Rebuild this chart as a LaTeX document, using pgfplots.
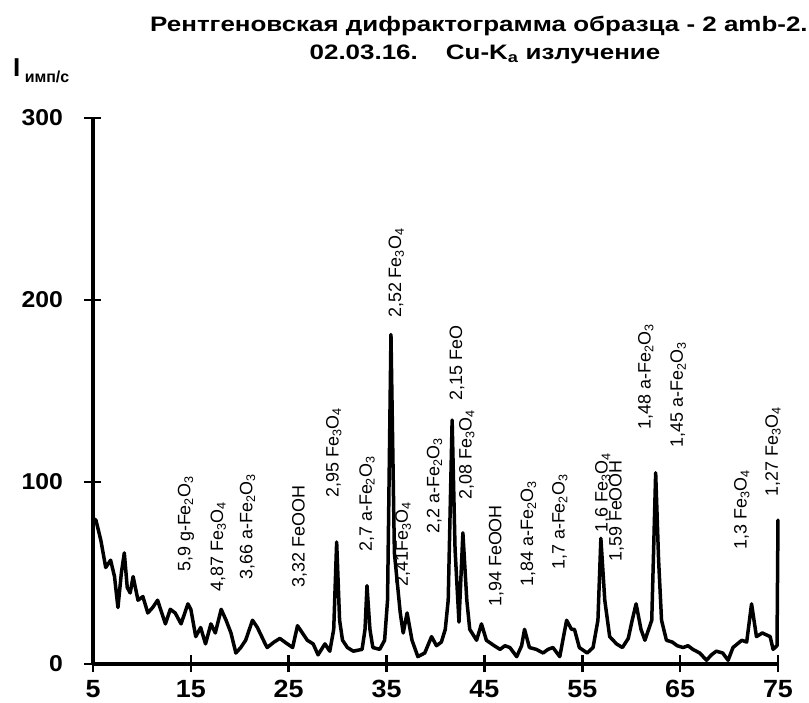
\documentclass[border=0pt]{standalone}
\usepackage{fontspec}
\setmainfont{Liberation Sans}
\newfontfamily\widefont[FakeStretch=1.24]{Liberation Sans}
\newfontfamily\tickfont[FakeStretch=1.08]{Liberation Sans}
\usepackage{pgfplots}
\pgfplotsset{compat=1.18}
\newcommand{\FeO}{Fe\textsubscript{2}O\textsubscript{3}}
\newcommand{\FeM}{Fe\textsubscript{3}O\textsubscript{4}}
\tikzset{lbl/.style={rotate=90, anchor=west, inner sep=0pt, font=\fontsize{18}{18}\selectfont}}
\begin{document}
\begin{tikzpicture}
\begin{axis}[
  scale only axis,
  width=685bp, height=546bp,
  xmin=5, xmax=75, ymin=0, ymax=300,
  axis lines=left,
  axis line style={-, line width=3.2bp, black},
  xtick={5,15,25,35,45,55,65,75},
  ytick={0,100,200,300},
  tick align=center,
  major tick length=17bp,
  tick style={line width=2.6bp, black},
  /pgf/number format/assume math mode=true,
  ticklabel style={font=\tickfont\bfseries\fontsize{23}{23}\selectfont},
  xticklabel style={yshift=-4bp, font=\tickfont\bfseries\fontsize{25}{25}\selectfont},
  yticklabel style={xshift=-18bp},
  clip=false,
]
\addplot[black, line width=3.5bp, line join=round, line cap=round] coordinates {
(5,80)(5.3,79)(5.8,68)(6.3,53)(6.8,57)(7.2,48)(7.55,31)(7.9,50)(8.2,61)(8.5,42)(8.8,39)(9.1,48)(9.6,35)(10.1,37)(10.6,28)(11.1,31)(11.6,35)(12.4,22)(12.9,30)(13.4,28)(14.0,22)(14.7,33)(15.0,30)(15.5,15)(16.0,20)(16.5,11)(17.05,22)(17.5,17)(18.1,30)(18.6,24)(19.1,17)(19.6,6)(20.1,9)(20.6,13)(21.3,24)(21.8,20)(22.6,11)(22.8,9)(23.5,12)(24.1,14)(24.6,12)(25.4,9)(25.9,21)(26.4,17)(26.9,13)(27.5,11)(28.0,5)(28.7,11)(29.2,7)(29.6,19)(29.9,67)(30.2,24)(30.5,13)(31.0,9)(31.6,7)(32.5,8)(32.8,19)(33.0,43)(33.3,19)(33.6,9)(34.3,8)(34.8,13)(35.1,35)(35.45,181)(35.8,61)(36.4,28)(36.7,17)(37.1,28)(37.6,13)(38.2,4)(38.9,6)(39.6,15)(40.1,10)(40.6,12)(41.0,19)(41.3,35)(41.7,134)(42.0,63)(42.4,23)(42.8,72)(43.2,35)(43.5,19)(44.2,13)(44.7,22)(45.2,13)(46.0,10)(46.6,8)(47.1,10)(47.6,9)(48.3,4)(48.8,10)(49.1,19)(49.6,9)(50.3,8)(51.0,6)(51.5,8)(52.0,9)(52.7,4)(53.4,24)(53.9,19)(54.2,19)(54.7,9)(55.5,6)(56.1,9)(56.6,24)(56.9,69)(57.3,35)(57.8,15)(58.5,11)(59.1,9)(59.7,14)(60.1,24)(60.5,33)(61.0,19)(61.4,13)(62.1,24)(62.5,105)(62.8,57)(63.1,24)(63.6,13)(64.2,12)(64.7,10)(65.3,9)(65.8,10)(66.3,8)(67.0,6)(67.7,2)(68.2,5)(68.7,7)(69.35,6)(69.9,2)(70.4,9)(71.3,13)(71.8,12)(72.3,33)(72.8,15)(73.4,17)(74.2,15)(74.5,8)(74.9,10)(75,79)
};
\node[lbl] at (axis cs:14.5,50.5) {5,9 g-\FeO};
\node[lbl] at (axis cs:17.8,39.6) {4,87 \FeM};
\node[lbl] at (axis cs:20.8,46.2) {3,66 a-\FeO};
\node[lbl] at (axis cs:26.1,41.8) {3,32 FeOOH};
\node[lbl] at (axis cs:29.6,91.2) {2,95 \FeM};
\node[lbl] at (axis cs:33.0,61.5) {2,7 a-\FeO};
\node[lbl] at (axis cs:36.0,190) {2,52 \FeM};
\node[lbl] at (axis cs:36.7,42.3) {2,41\FeM};
\node[lbl] at (axis cs:39.9,71.4) {2,2 a-\FeO};
\node[lbl] at (axis cs:42.2,144.5) {2,15 FeO};
\node[lbl] at (axis cs:43.2,90.1) {2,08 \FeM};
\node[lbl] at (axis cs:46.2,31.3) {1,94 FeOOH};
\node[lbl] at (axis cs:49.5,42.3) {1,84 a-\FeO};
\node[lbl] at (axis cs:52.7,51.6) {1,7 a-\FeO};
\node[lbl] at (axis cs:57.1,72.0) {1,6 \FeM};
\node[lbl] at (axis cs:58.5,56) {1,59 FeOOH};
\node[lbl] at (axis cs:61.5,128.6) {1,48 a-\FeO};
\node[lbl] at (axis cs:64.8,118.7) {1,45 a-\FeO};
\node[lbl] at (axis cs:71.3,62.6) {1,3 \FeM};
\node[lbl] at (axis cs:74.5,91.8) {1,27 \FeM};
\node[anchor=base, inner sep=0pt, font=\widefont\bfseries\fontsize{21}{21}\selectfont] at (axis cs:44.44,347.3) {Рентгеновская дифрактограмма образца - 2 amb-2.};
\node[anchor=base, inner sep=0pt, font=\widefont\bfseries\fontsize{21}{21}\selectfont] at (axis cs:45.06,331.9) {02.03.16.\quad\ Cu-K\textsubscript{a} излучение};
\node[anchor=base west, inner sep=0pt, font=\bfseries] at (axis cs:-3.17,322.5) {\fontsize{26}{26}\selectfont I\,\raisebox{-6bp}{\fontsize{16}{16}\selectfont имп/с}};
\coordinate (BL) at (axis cs:-4.503,-21.43);
\coordinate (TR) at (axis cs:78.17,364.8);
\end{axis}
\pgfresetboundingbox
\useasboundingbox (BL) rectangle (TR);
\end{tikzpicture}
\end{document}
